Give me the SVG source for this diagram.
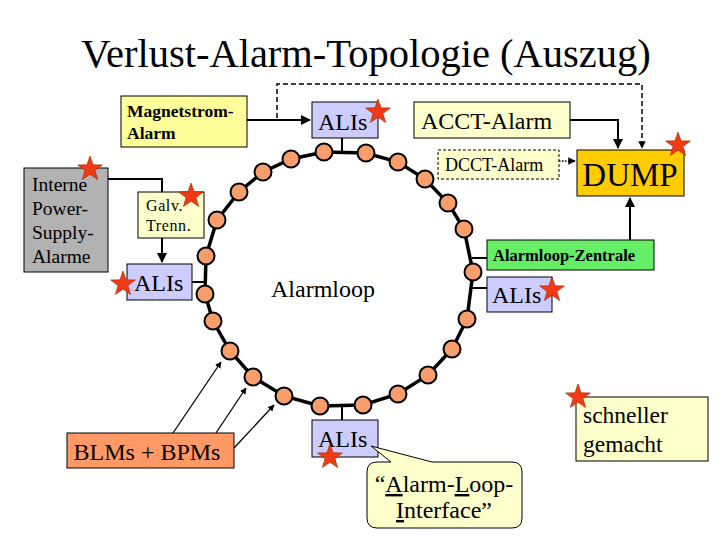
<svg xmlns="http://www.w3.org/2000/svg" width="720" height="540" viewBox="0 0 720 540">
<style>
text{font-family:"Liberation Serif","Times New Roman",serif;fill:#000}
.box{stroke:#000;stroke-width:1}
.yel{fill:#FFFFCC}
.yel2{fill:#FFFF99}
.ali{fill:#CCCCFF}
.ln{fill:none;stroke:#000;stroke-width:2}
.ring{fill:none;stroke:#000;stroke-width:3.5}
.thin{fill:none;stroke:#000;stroke-width:1.5}
.node{fill:#F79E6C;stroke:#000;stroke-width:2}
.star{fill:#F23A14;stroke:#A02000;stroke-width:0.6}
</style>
<defs>
<marker id="ah" viewBox="0 0 10 10" refX="9" refY="5" markerWidth="5" markerHeight="5" orient="auto-start-reverse"><path d="M0,0 L10,5 L0,10 Z" fill="#000"/></marker>
<path id="st" d="M0,-13 L3.06,-4.21 L12.36,-4.02 L4.95,1.61 L7.64,10.52 L0,5.2 L-7.64,10.52 L-4.95,1.61 L-12.36,-4.02 L-3.06,-4.21 Z"/>
</defs>
<rect width="720" height="540" fill="#fff"/>
<text x="366" y="67" font-size="40.5" text-anchor="middle">Verlust-Alarm-Topologie (Auszug)</text>

<g id="connectors">
<path class="thin" d="M277,118 V84 H642 V148" stroke-dasharray="5,3" marker-end="url(#ah)"/>
<path class="ln" d="M247,120 H310" marker-end="url(#ah)"/>
<path class="ln" d="M570,120 H618 V148" marker-end="url(#ah)"/>
<path d="M559,161 H575" fill="none" stroke="#000" stroke-width="1.5" stroke-dasharray="1.5,1.5" marker-end="url(#ah)"/>
<path class="ln" d="M630,240 V198" marker-end="url(#ah)"/>
<path class="ln" d="M108,179 H162 V192"/>
<path class="ln" d="M162,238 V262" marker-end="url(#ah)"/>
<path class="ln" d="M342,138 V153"/>
<path class="ln" d="M192,282 H206"/>
<path class="ln" d="M472,258 H487"/>
<path class="ln" d="M472,288 H487"/>
<path class="ln" d="M342,405 V420"/>
<path d="M173,433 L221,362" fill="none" stroke="#000" stroke-width="1.3" marker-end="url(#ah)"/>
<path d="M216,433 L246,388" fill="none" stroke="#000" stroke-width="1.3" marker-end="url(#ah)"/>
<path d="M234,448 L274,405" fill="none" stroke="#000" stroke-width="1.3" marker-end="url(#ah)"/>
</g>

<g id="alarmloop">
<polygon class="ring" points="324,152 366,153 398,162 425,179 448,203 464,229 473,272 467,319 452,349 428,375 398,394 363,405 320,406 284,396 253,377 230,351 213,321 205,294 206,256 217,220 239,192 263,172 291,159"/>
<g>
<circle class="node" cx="324" cy="152" r="8.5"/><circle class="node" cx="366" cy="153" r="8.5"/><circle class="node" cx="398" cy="162" r="8.5"/><circle class="node" cx="425" cy="179" r="8.5"/><circle class="node" cx="448" cy="203" r="8.5"/><circle class="node" cx="464" cy="229" r="8.5"/><circle class="node" cx="473" cy="272" r="8.5"/><circle class="node" cx="467" cy="319" r="8.5"/><circle class="node" cx="452" cy="349" r="8.5"/><circle class="node" cx="428" cy="375" r="8.5"/><circle class="node" cx="398" cy="394" r="8.5"/><circle class="node" cx="363" cy="405" r="8.5"/><circle class="node" cx="320" cy="406" r="8.5"/><circle class="node" cx="284" cy="396" r="8.5"/><circle class="node" cx="253" cy="377" r="8.5"/><circle class="node" cx="230" cy="351" r="8.5"/><circle class="node" cx="213" cy="321" r="8.5"/><circle class="node" cx="205" cy="294" r="8.5"/><circle class="node" cx="206" cy="256" r="8.5"/><circle class="node" cx="217" cy="220" r="8.5"/><circle class="node" cx="239" cy="192" r="8.5"/><circle class="node" cx="263" cy="172" r="8.5"/><circle class="node" cx="291" cy="159" r="8.5"/>
</g>
<text x="323" y="297" font-size="24" text-anchor="middle">Alarmloop</text>
</g>

<g id="magnetstrom">
<rect class="box yel2" x="121" y="96" width="126" height="51"/>
<text x="127" y="117" font-size="17.5" font-weight="bold">Magnetstrom-</text>
<text x="127" y="139" font-size="17.5" font-weight="bold">Alarm</text>
</g>

<g id="alis-top">
<rect class="box ali" x="312" y="102" width="66" height="36"/>
<text x="318" y="130" font-size="24">ALIs</text>
<use href="#st" class="star" x="378" y="112"/>
</g>

<g id="acct">
<rect class="box yel" x="414" y="102" width="156" height="36"/>
<text x="421" y="129" font-size="24">ACCT-Alarm</text>
</g>

<g id="dcct">
<rect class="yel" x="438" y="150" width="121" height="29" stroke="#000" stroke-width="1" stroke-dasharray="3,2"/>
<text x="445" y="171" font-size="18">DCCT-Alarm</text>
</g>

<g id="dump">
<rect class="box" fill="#FFCC00" x="577" y="150" width="107" height="46"/>
<text x="630" y="186" font-size="33" text-anchor="middle">DUMP</text>
<use href="#st" class="star" x="678" y="145"/>
</g>

<g id="zentrale">
<rect class="box" fill="#66EE66" x="487" y="240" width="167" height="30"/>
<text x="493" y="261" font-size="16.5" font-weight="bold">Alarmloop-Zentrale</text>
</g>

<g id="alis-right">
<rect class="box ali" x="487" y="277" width="65" height="35"/>
<text x="492" y="303" font-size="24">ALIs</text>
<use href="#st" class="star" x="552" y="290"/>
</g>

<g id="interne">
<rect class="box" fill="#B2B2B2" x="24" y="168" width="84" height="104"/>
<text x="32" y="191" font-size="19.5">Interne</text>
<text x="32" y="215" font-size="19.5">Power-</text>
<text x="32" y="239" font-size="19.5">Supply-</text>
<text x="32" y="263" font-size="19.5">Alarme</text>
<use href="#st" class="star" x="90" y="169"/>
</g>

<g id="galv">
<rect class="box yel" x="138" y="192" width="66" height="46"/>
<text x="146" y="211" font-size="16" letter-spacing="0.6">Galv.</text>
<text x="146" y="231" font-size="16" letter-spacing="0.6">Trenn.</text>
<use href="#st" class="star" x="191" y="196"/>
</g>

<g id="alis-left">
<rect class="box ali" x="127" y="264" width="65" height="36"/>
<text x="134" y="291" font-size="24">ALIs</text>
<use href="#st" class="star" x="123" y="284"/>
</g>

<g id="blms">
<rect class="box" fill="#FF9966" x="67" y="433" width="167" height="35"/>
<text x="147" y="460" font-size="24" text-anchor="middle">BLMs + BPMs</text>
</g>

<g id="alis-bottom">
<rect class="box ali" x="312" y="420" width="66" height="37"/>
<text x="318" y="447" font-size="24">ALIs</text>
<use href="#st" class="star" x="330" y="457"/>
</g>

<g id="callout">
<path class="box yel" d="M377,462 H391 L371,446 L432,462 H512 Q522,462 522,472 V518 Q522,528 512,528 H377 Q367,528 367,518 V472 Q367,462 377,462 Z"/>
<text x="444" y="492" font-size="24" text-anchor="middle">“<tspan text-decoration="underline">A</tspan>larm-<tspan text-decoration="underline">L</tspan>oop-</text>
<text x="444" y="518" font-size="24" text-anchor="middle"><tspan text-decoration="underline">I</tspan>nterface”</text>
</g>

<g id="schneller">
<rect class="box yel" x="576" y="397" width="132" height="64"/>
<text x="583" y="423" font-size="23.5">schneller</text>
<text x="583" y="452" font-size="23.5">gemacht</text>
<use href="#st" class="star" x="578" y="397"/>
</g>
</svg>
